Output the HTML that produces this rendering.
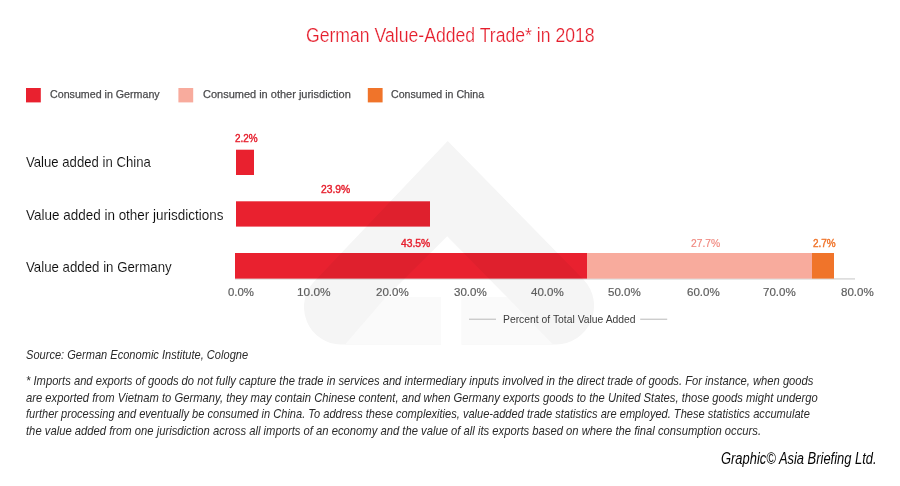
<!DOCTYPE html>
<html lang="en">
<head>
<meta charset="utf-8">
<title>German Value-Added Trade* in 2018</title>
<style>
html,body{margin:0;padding:0;background:#fff;}
body{width:900px;height:486px;position:relative;overflow:hidden;font-family:"Liberation Sans",sans-serif;}
.t{position:absolute;white-space:nowrap;line-height:1;transform-origin:0 0;margin:0;padding:0;font-weight:normal;}
svg{position:absolute;left:0;top:0;}
</style>
</head>
<body>
<svg width="900" height="486" viewBox="0 0 900 486">
  <!-- legend -->
  <rect x="26" y="88" width="14.8" height="14.4" fill="#e9212f"/>
  <rect x="178.4" y="88" width="14.8" height="14.4" fill="#f8ab9d"/>
  <rect x="367.8" y="88" width="14.8" height="14.4" fill="#f0742a"/>
  <!-- axis line -->
  <rect x="235" y="278.2" width="620" height="1.4" fill="#d6d6d6"/>
  <!-- bars -->
  <rect x="236" y="149.7" width="18" height="25.3" fill="#e9212f"/>
  <rect x="236" y="201.3" width="194" height="25.3" fill="#e9212f"/>
  <rect x="235" y="253" width="352" height="25.6" fill="#e9212f"/>
  <rect x="587" y="253" width="225" height="25.6" fill="#f8ab9d"/>
  <rect x="812" y="253" width="22" height="25.6" fill="#f0742a"/>
  <!-- watermark -->
  <g style="mix-blend-mode:multiply">
    <path fill="#f5f5f5" d="M447.7 141 L314 281.8 A37.3 37.3 0 0 0 341 344.5 L556 344.5 A38.5 38.5 0 0 0 583.5 279.5 Z"/>
    <path fill="#ffffff" d="M447.2 236.3 L386 297 L507 297 Z"/>
    <path fill="#fafafa" d="M386 297 L441 297 L441 344.5 L345 344.5 Z M461.5 297 L507 297 L553 344.5 L461.5 344.5 Z"/>
    <rect fill="#ffffff" x="441" y="297" width="20.5" height="48"/>
  </g>
  <!-- axis title lines -->
  <rect x="469" y="318.7" width="27" height="1" fill="#b8b8b8"/>
  <rect x="640.2" y="318.7" width="27" height="1" fill="#b8b8b8"/>
</svg>
<h1 class="t" style="left:305.52px;top:26px;font-size:19.6px;color:#e51e2c;-webkit-text-stroke:0.22px #fff;transform:scaleX(0.8992);">German Value-Added Trade* in 2018</h1>
<div class="t" style="left:49.78px;top:89px;font-size:11.4px;color:#4a4a4c;-webkit-text-stroke:0.25px #4a4a4c;transform:scaleX(0.9363);">Consumed in Germany</div>
<div class="t" style="left:202.78px;top:89px;font-size:11.4px;color:#4a4a4c;-webkit-text-stroke:0.25px #4a4a4c;transform:scaleX(0.9645);">Consumed in other jurisdiction</div>
<div class="t" style="left:391.10px;top:89px;font-size:11.4px;color:#4a4a4c;-webkit-text-stroke:0.25px #4a4a4c;transform:scaleX(0.9306);">Consumed in China</div>
<div class="t" style="left:26.22px;top:156px;font-size:13.9px;color:#0c0c0c;-webkit-text-stroke:0.1px #fff;transform:scaleX(0.9467);">Value added in China</div>
<div class="t" style="left:26.22px;top:209px;font-size:13.9px;color:#0c0c0c;-webkit-text-stroke:0.1px #fff;transform:scaleX(0.9698);">Value added in other jurisdictions</div>
<div class="t" style="left:26.22px;top:261px;font-size:13.9px;color:#0c0c0c;-webkit-text-stroke:0.1px #fff;transform:scaleX(0.9544);">Value added in Germany</div>
<div class="t" style="left:235.34px;top:134px;font-size:10.0px;color:#e6202e;-webkit-text-stroke:0.4px #e6202e;transform:scaleX(0.9941);">2.2%</div>
<div class="t" style="left:321.12px;top:185px;font-size:10.0px;color:#e6202e;-webkit-text-stroke:0.4px #e6202e;transform:scaleX(1.0307);">23.9%</div>
<div class="t" style="left:401.12px;top:239px;font-size:10.0px;color:#e6202e;-webkit-text-stroke:0.4px #e6202e;transform:scaleX(1.0307);">43.5%</div>
<div class="t" style="left:690.66px;top:239px;font-size:10.0px;color:#f0877e;-webkit-text-stroke:0.15px #f0877e;transform:scaleX(1.0307);">27.7%</div>
<div class="t" style="left:813.34px;top:239px;font-size:10.0px;color:#f0742a;-webkit-text-stroke:0.4px #f0742a;transform:scaleX(0.9941);">2.7%</div>
<div class="t" style="left:503.42px;top:315px;font-size:10.4px;color:#3c3c3c;transform:scaleX(0.9967);">Percent of Total Value Added</div>
<div class="t" style="left:26.10px;top:349px;font-size:12.2px;color:#2b2b2b;font-style:italic;transform:scaleX(0.9082);">Source: German Economic Institute, Cologne</div>
<div class="t" style="left:26.30px;top:375px;font-size:12.2px;color:#2b2b2b;font-style:italic;transform:scaleX(0.9188);">* Imports and exports of goods do not fully capture the trade in services and intermediary inputs involved in the direct trade of goods. For instance, when goods</div>
<div class="t" style="left:26.10px;top:392px;font-size:12.2px;color:#2b2b2b;font-style:italic;transform:scaleX(0.9223);">are exported from Vietnam to Germany, they may contain Chinese content, and when Germany exports goods to the United States, those goods might undergo</div>
<div class="t" style="left:26.10px;top:408px;font-size:12.2px;color:#2b2b2b;font-style:italic;transform:scaleX(0.9079);">further processing and eventually be consumed in China. To address these complexities, value-added trade statistics are employed. These statistics accumulate</div>
<div class="t" style="left:26.10px;top:425px;font-size:12.2px;color:#2b2b2b;font-style:italic;transform:scaleX(0.9227);">the value added from one jurisdiction across all imports of an economy and the value of all its exports based on where the final consumption occurs.</div>
<div class="t" style="left:721.20px;top:451px;font-size:15.6px;color:#050505;font-style:italic;transform:scaleX(0.8287);">Graphic© Asia Briefing Ltd.</div>
<div class="t" style="left:227.78px;top:286px;font-size:11.7px;color:#5e5e5e;-webkit-text-stroke:0.2px #5e5e5e;transform:scaleX(0.9760);">0.0%</div>
<div class="t" style="left:297.30px;top:286px;font-size:11.7px;color:#5e5e5e;-webkit-text-stroke:0.2px #5e5e5e;transform:scaleX(1.0141);">10.0%</div>
<div class="t" style="left:376.22px;top:286px;font-size:11.7px;color:#5e5e5e;-webkit-text-stroke:0.2px #5e5e5e;transform:scaleX(0.9894);">20.0%</div>
<div class="t" style="left:454.22px;top:286px;font-size:11.7px;color:#5e5e5e;-webkit-text-stroke:0.2px #5e5e5e;transform:scaleX(0.9894);">30.0%</div>
<div class="t" style="left:531.22px;top:286px;font-size:11.7px;color:#5e5e5e;-webkit-text-stroke:0.2px #5e5e5e;transform:scaleX(0.9894);">40.0%</div>
<div class="t" style="left:608.10px;top:286px;font-size:11.7px;color:#5e5e5e;-webkit-text-stroke:0.2px #5e5e5e;transform:scaleX(0.9894);">50.0%</div>
<div class="t" style="left:687.22px;top:286px;font-size:11.7px;color:#5e5e5e;-webkit-text-stroke:0.2px #5e5e5e;transform:scaleX(0.9894);">60.0%</div>
<div class="t" style="left:763.22px;top:286px;font-size:11.7px;color:#5e5e5e;-webkit-text-stroke:0.2px #5e5e5e;transform:scaleX(0.9894);">70.0%</div>
<div class="t" style="left:841.22px;top:286px;font-size:11.7px;color:#5e5e5e;-webkit-text-stroke:0.2px #5e5e5e;transform:scaleX(0.9894);">80.0%</div>
</body>
</html>
